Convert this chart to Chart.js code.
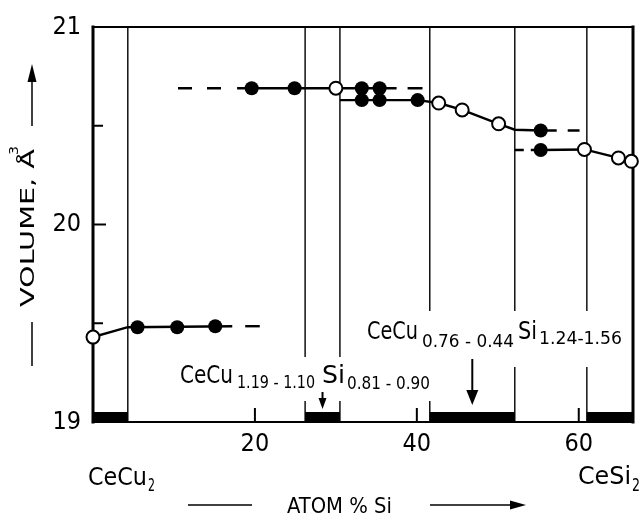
<!DOCTYPE html>
<html lang="en">
<head>
<meta charset="UTF-8">
<title>CeCu2 - CeSi2 volume</title>
<script src="https://cdn.jsdelivr.net/npm/chart.js"></script>
<style>
  html, body { margin: 0; padding: 0; background: #fff; }
</style>
</head>
<body>
<canvas id="volChart" width="642" height="519"></canvas>
<script>
// axis ranges and ticks
const xMin = 0, xMax = 66.7;
const yMin = 19, yMax = 21;
const xTickValues = [20, 40, 60];
const yTickValues = [19, 19.5, 20, 20.5, 21];

// phase boundaries (at.% Si) and single phase regions (black bars)
const phaseBounds = [4.3, 26.2, 30.5, 41.6, 52.1, 61.0];
const singleFrom = [0, 26.2, 41.6, 61.0];
const singleTo = [4.3, 30.5, 52.1, 66.7];

// measured points
const filledX = [5.5, 10.4, 15.1, 19.6, 24.9, 33.2, 35.4, 33.2, 35.4, 40.1, 55.3, 55.3];
const filledY = [19.48, 19.48, 19.485, 20.69, 20.69, 20.69, 20.69, 20.63, 20.63, 20.63, 20.476, 20.377];
const openX = [0, 30.0, 42.7, 45.6, 50.1, 60.7, 64.9, 66.5];
const openY = [19.43, 20.69, 20.615, 20.58, 20.51, 20.38, 20.337, 20.32];

// solid connecting lines
const leftLineX = [0, 4.3, 17.2];
const leftLineY = [19.43, 19.48, 19.485];
const upperLineX = [17.8, 35.4];
const upperLineY = [20.69, 20.69];
const midLineX = [30.5, 40.1, 42.7, 45.6, 50.1, 52.1, 55.3];
const midLineY = [20.63, 20.63, 20.615, 20.58, 20.51, 20.48, 20.476];
const rightLineX = [55.3, 60.7, 64.9, 66.5];
const rightLineY = [20.377, 20.38, 20.337, 20.32];

// dashed extensions
const dashLeftX = [18.8, 20.6], dashLeftY = [19.485, 19.485];
const dashUpInX = [10.5, 15.9], dashUpInY = [20.69, 20.69];
const dashUpOutX = [35.4, 40.7], dashUpOutY = [20.69, 20.69];
const dashMidOutX = [55.3, 60.1], dashMidOutY = [20.476, 20.476];
const dashRightInX = [52.1, 55.3], dashRightInY = [20.377, 20.377];

const FONT = '"DejaVu Sans Condensed", "DejaVu Sans", sans-serif';

function pts(xs, ys) {
    return xs.map((x, i) => ({ x: x, y: ys[i] }));
}

function lineSet(xs, ys, extra) {
    return Object.assign({
        data: pts(xs, ys),
        showLine: true,
        pointRadius: 0,
        borderColor: '#000',
        borderWidth: 2.4
    }, extra || {});
}

// draw text squeezed/stretched to fit between x0 and x1
function fitText(ctx, s, x0, x1, y, size) {
    ctx.font = size + 'px ' + FONT;
    const w = ctx.measureText(s).width;
    ctx.save();
    ctx.translate(x0, y);
    ctx.scale((x1 - x0) / w, 1);
    ctx.textAlign = 'left';
    ctx.textBaseline = 'alphabetic';
    ctx.fillText(s, 0, 0);
    ctx.restore();
}

function downArrow(ctx, x, y0, y1, headLen, halfW) {
    ctx.beginPath();
    ctx.moveTo(x, y0);
    ctx.lineTo(x, y1 - headLen);
    ctx.stroke();
    ctx.beginPath();
    ctx.moveTo(x, y1);
    ctx.lineTo(x - halfW, y1 - headLen);
    ctx.lineTo(x + halfW, y1 - headLen);
    ctx.closePath();
    ctx.fill();
}

const framePlugin = {
    id: 'frame',
    beforeDatasetsDraw(chart) {
        const { ctx, chartArea: a } = chart;
        ctx.save();
        ctx.strokeStyle = '#000';
        ctx.lineCap = 'square';
        ctx.lineWidth = 3;
        ctx.beginPath(); ctx.moveTo(a.left, a.top); ctx.lineTo(a.left, a.bottom); ctx.stroke();
        ctx.beginPath(); ctx.moveTo(a.right, a.top); ctx.lineTo(a.right, a.bottom); ctx.stroke();
        ctx.lineWidth = 2.2;
        ctx.beginPath(); ctx.moveTo(a.left, a.top); ctx.lineTo(a.right, a.top); ctx.stroke();
        ctx.beginPath(); ctx.moveTo(a.left, a.bottom); ctx.lineTo(a.right, a.bottom); ctx.stroke();
        // inner ticks
        ctx.lineCap = 'butt';
        ctx.lineWidth = 2;
        const xs = chart.scales.x, ys = chart.scales.y;
        yTickValues.forEach(v => {
            if (v === yMin || v === yMax) return;
            const py = ys.getPixelForValue(v);
            ctx.beginPath(); ctx.moveTo(a.left, py); ctx.lineTo(a.left + (Number.isInteger(v) ? 13 : 10), py); ctx.stroke();
        });
        xTickValues.forEach(v => {
            const px = xs.getPixelForValue(v);
            ctx.beginPath(); ctx.moveTo(px, a.bottom); ctx.lineTo(px, a.bottom - 14); ctx.stroke();
        });
        ctx.restore();
    },
    afterDatasetsDraw(chart) {
        const { ctx } = chart;
        const xs = chart.scales.x;
        ctx.save();
        // white boxes behind the phase labels
        ctx.fillStyle = '#fff';
        ctx.fillRect(176, 357, 258, 44);
        ctx.fillRect(362, 311, 266, 56);
        ctx.fillStyle = '#000';
        ctx.strokeStyle = '#000';

        fitText(ctx, 'CeCu', 180, 233, 383, 25);
        fitText(ctx, '1.19 - 1.10', 237, 315, 388, 18);
        fitText(ctx, 'Si', 322, 345, 383, 25);
        fitText(ctx, '0.81 - 0.90', 347, 430, 389, 18);

        fitText(ctx, 'CeCu', 367, 418, 339, 25);
        fitText(ctx, '0.76 - 0.44', 422, 514, 347, 18);
        fitText(ctx, 'Si', 518, 537, 339, 25);
        fitText(ctx, '1.24-1.56', 539, 622, 344, 18);

        ctx.lineWidth = 2;
        downArrow(ctx, xs.getPixelForValue((singleFrom[1] + singleTo[1]) / 2), 392, 409, 11, 4);
        downArrow(ctx, xs.getPixelForValue((singleFrom[2] + singleTo[2]) / 2), 359, 405, 15, 6);
        ctx.restore();
    },
    afterDraw(chart) {
        const { ctx } = chart;
        ctx.save();
        ctx.fillStyle = '#000';
        ctx.strokeStyle = '#000';

        // compound names under the axis
        fitText(ctx, 'CeCu', 88, 147, 485, 25);
        fitText(ctx, '2', 148, 155, 491, 17);
        fitText(ctx, 'CeSi', 578, 631, 484, 25);
        fitText(ctx, '2', 632, 640, 491, 17);

        // x title with lines/arrow
        fitText(ctx, 'ATOM % Si', 287, 392, 513, 21);
        ctx.lineWidth = 1.5;
        ctx.beginPath(); ctx.moveTo(188, 505); ctx.lineTo(252, 505); ctx.stroke();
        ctx.beginPath(); ctx.moveTo(430, 505); ctx.lineTo(512, 505); ctx.stroke();
        ctx.beginPath(); ctx.moveTo(526, 505); ctx.lineTo(510, 500.5); ctx.lineTo(510, 509.5); ctx.closePath(); ctx.fill();

        // y title (rotated)
        ctx.save();
        ctx.translate(34, 307);
        ctx.rotate(-Math.PI / 2);
        fitText(ctx, 'VOLUME, Å', 0, 158, 0, 19);
        fitText(ctx, '3', 152, 161, -16, 13);
        ctx.restore();
        ctx.beginPath(); ctx.moveTo(32, 322); ctx.lineTo(32, 366); ctx.stroke();
        ctx.beginPath(); ctx.moveTo(32, 126); ctx.lineTo(32, 80); ctx.stroke();
        ctx.beginPath(); ctx.moveTo(32, 64); ctx.lineTo(27.5, 82); ctx.lineTo(36.5, 82); ctx.closePath(); ctx.fill();
        ctx.restore();
    }
};

const ctx = document.getElementById('volChart').getContext('2d');
const volChart = new Chart(ctx, {
    type: 'scatter',
    data: {
        datasets: [
            {
                data: pts(filledX, filledY),
                pointRadius: 7,
                backgroundColor: '#000',
                borderColor: '#000',
                borderWidth: 0,
                clip: false
            },
            {
                data: pts(openX, openY),
                pointRadius: 6.5,
                backgroundColor: '#fff',
                borderColor: '#000',
                borderWidth: 2,
                clip: false
            },
            lineSet(leftLineX, leftLineY),
            lineSet(upperLineX, upperLineY),
            lineSet(midLineX, midLineY),
            lineSet(rightLineX, rightLineY),
            lineSet(dashLeftX, dashLeftY, { borderDash: [15, 14] }),
            lineSet(dashUpInX, dashUpInY, { borderDash: [14, 15] }),
            lineSet(dashUpOutX, dashUpOutY, { borderDash: [17, 11] }),
            lineSet(dashMidOutX, dashMidOutY, { borderDash: [16, 11] }),
            lineSet(dashRightInX, dashRightInY, { borderDash: [9, 7] }),
            {
                // phase boundaries
                data: phaseBounds.flatMap(b => [{ x: b, y: yMin }, { x: b, y: yMax }, { x: b, y: null }]),
                showLine: true,
                spanGaps: false,
                pointRadius: 0,
                borderColor: '#000',
                borderWidth: 1.4
            },
            {
                // single phase regions
                data: singleFrom.flatMap((f, i) => [{ x: f, y: yMin }, { x: singleTo[i], y: yMin }, { x: f, y: null }]),
                showLine: true,
                spanGaps: false,
                pointRadius: 0,
                borderColor: '#000',
                borderWidth: 20,
                borderCapStyle: 'butt',
                clip: 0
            }
        ]
    },
    options: {
        responsive: false,
        animation: false,
        layout: { padding: { top: 21, right: 9, left: 0, bottom: 0 } },
        plugins: {
            legend: { display: false },
            tooltip: { enabled: false }
        },
        scales: {
            x: {
                type: 'linear',
                min: xMin,
                max: xMax,
                grid: { display: false, drawTicks: false },
                border: { display: false },
                ticks: {
                    color: '#000',
                    font: { family: FONT, size: 25 },
                    padding: 7,
                    maxRotation: 0
                },
                afterBuildTicks: s => { s.ticks = xTickValues.map(v => ({ value: v })); },
                afterFit: s => { s.height = 97; }
            },
            y: {
                type: 'linear',
                min: yMin,
                max: yMax,
                grid: { display: false, drawTicks: false },
                border: { display: false },
                ticks: {
                    color: '#000',
                    font: { family: FONT, size: 25 },
                    padding: 12,
                    callback: v => Number.isInteger(v) ? String(v) : ''
                },
                afterBuildTicks: s => { s.ticks = yTickValues.map(v => ({ value: v })); },
                afterFit: s => { s.width = 93; }
            }
        }
    },
    plugins: [framePlugin]
});
</script>
</body>
</html>
